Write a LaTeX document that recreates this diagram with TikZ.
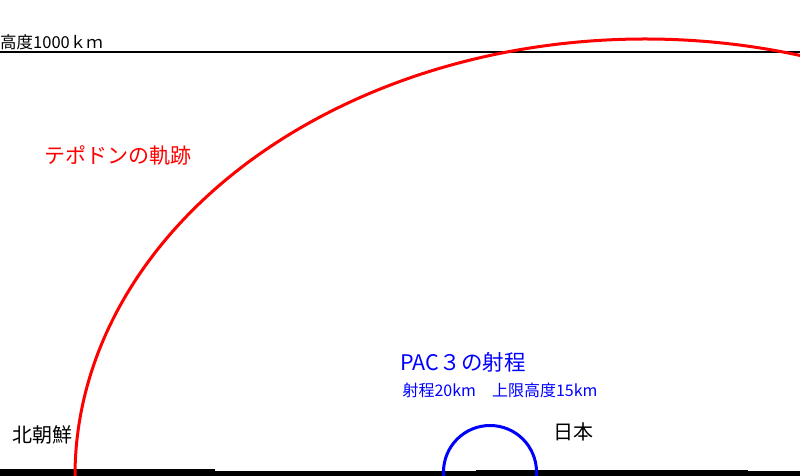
\documentclass[tikz,border=0pt]{standalone}
\usepackage{fontspec}
\setmainfont{Noto Sans CJK JP}
\usepackage{xcolor}
\usetikzlibrary{positioning}
\definecolor{OrbitRed}{RGB}{255,0,0}
\definecolor{RangeBlue}{RGB}{0,0,255}

\begin{document}
\begin{tikzpicture}[x=1pt,y=1pt,
  annot/.style={inner sep=0pt,font=\fontsize{20}{24}\selectfont},
  smallannot/.style={inner sep=0pt,font=\fontsize{16}{19}\selectfont},
  orbit/.style={draw=OrbitRed,line width=3pt},
  reach/.style={draw=RangeBlue,line width=3pt},
  ceiling/.style={draw=black,line width=2pt},
]
\useasboundingbox (0,0) rectangle (800,476);

%% ground
\fill[black] (0,0) rectangle (800,5);
\fill[black] (0,0) rectangle (215,7);
\fill[black] (476,0) rectangle (748,6);

%% altitude line
\coordinate (topL) at (0,424);
\coordinate (topR) at (800,424);
\draw[ceiling] (topL) -- (topR);
\node[smallannot,anchor=west,font=\fontsize{16.5}{19}\selectfont] (alt) at (0,433.5) {高度1000ｋｍ};

%% Taepodong trajectory
\begin{scope}
  \clip (0,0) rectangle (800,476);
  \draw[orbit] (75,0) arc[start angle=180,end angle=70,x radius=570,y radius=437];
\end{scope}
\node[annot,text=OrbitRed,font=\fontsize{21}{25}\selectfont] (tpd) at (117.5,321) {テポドンの軌跡};

%% PAC3 range
\draw[reach] (443.5,0) -- (443.5,4) arc[start angle=180,end angle=0,radius=46.5] -- (536.5,0);
\node[annot,text=RangeBlue,font=\fontsize{21.5}{25}\selectfont] (pac) at (463,114) {PAC３の射程};
\node[smallannot,text=RangeBlue] (pacsub) at (500,86) {射程20km　上限高度15km};

%% places
\node[annot] (nk) at (42.5,41) {北朝鮮};
\node[annot] (jp) at (573,44) {日本};
\end{tikzpicture}
\end{document}
